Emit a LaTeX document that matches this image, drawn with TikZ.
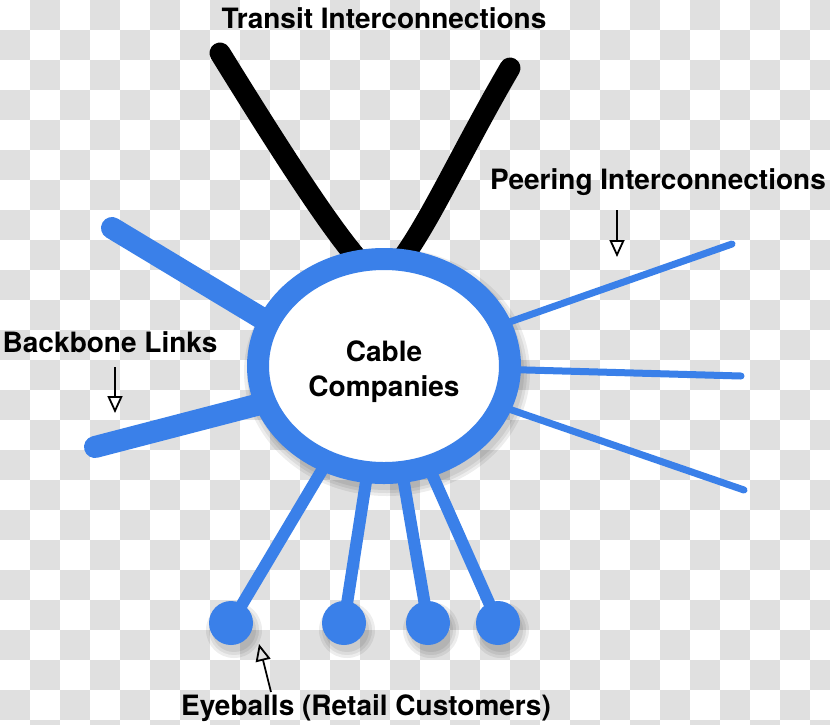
\documentclass[tikz,border=0pt]{standalone}
\usepackage{fontspec}
\setmainfont{TeX Gyre Heros}
\usetikzlibrary{arrows.meta,shapes.geometric}
\definecolor{netblue}{RGB}{58,128,233}
\definecolor{checker}{RGB}{224,224,224}
\pgfdeclarelayer{bgchk}
\pgfdeclarelayer{bglines}
\pgfsetlayers{bgchk,bglines,main}
\begin{document}
\begin{tikzpicture}[x=1pt,y=-1pt,
  lbl/.style={font=\fontsize{28}{35}\selectfont\bfseries, text=black, inner sep=0pt, anchor=base},
  cablestyle/.style={ellipse, draw=netblue, fill=white, line width=22pt, minimum width=252pt,
    minimum height=214pt, inner sep=0pt, outer sep=0pt, align=center,
    font=\fontsize{28}{35}\selectfont\bfseries},
  peer/.style={draw=netblue, line width=7pt, line cap=round},
  eye/.style={draw=netblue, line width=12pt},
  backbone/.style={draw=netblue, line width=22pt, line cap=round},
  transit/.style={draw=black, line width=21pt, line cap=round},
  ball/.style={circle, fill=netblue, minimum size=44pt, inner sep=0pt},
  softshadow/.style={fill=black, opacity=0.07},
  pointer/.style={draw=black, line width=1.8pt, -{Triangle[open, length=17pt, width=15pt, line width=1.8pt]}},
]
\useasboundingbox (0,0) rectangle (830,724);

% checkerboard background
\begin{pgfonlayer}{bgchk}
  \fill[white] (0,0) rectangle (830,724);
  \clip (0,0) rectangle (830,724);
  \foreach \j in {0,...,24}{
    \foreach \i in {0,2,...,26}{
      \fill[checker] ({(\i+1-mod(\j,2))*30},{\j*30}) rectangle ++(30,30);
    }
  }
\end{pgfonlayer}

% central node
\node[cablestyle] (cable) at (384,366) {\rule{0pt}{33pt}Cable\\Companies};

% eyeball nodes
\node[ball] (e1) at (231,623) {};
\node[ball] (e2) at (344,623) {};
\node[ball] (e3) at (428,623) {};
\node[ball] (e4) at (498,623) {};

% free ends
\coordinate (p1) at (732,244);
\coordinate (p2) at (741,376);
\coordinate (p3) at (744,490);
\coordinate (b1) at (112,228);
\coordinate (b1e) at (268,322);
\coordinate (b2) at (95,447);
\coordinate (b2e) at (268,402);
\coordinate (t1) at (220,53);
\coordinate (t1e) at (362,264);
\coordinate (t2) at (510,68);
\coordinate (t2e) at (398,264);

\begin{pgfonlayer}{bglines}
  % shadows
  \foreach \r in {0,3,6}{
    \fill[softshadow] ([xshift=3pt,yshift=-6pt]cable.center) ellipse [x radius={137+\r}, y radius={118+\r}];
  }
  \foreach \n in {e1,e2,e3,e4}{
    \foreach \r in {0,3,6}{
      \fill[softshadow] ([xshift=3pt,yshift=-7pt]\n.center) circle [radius={22+\r}];
    }
  }
  % transit
  \draw[transit] (t1) .. controls (280,150) and (330,228) .. (t1e);
  \draw[transit] (t2) .. controls (462,150) and (428,226) .. (t2e);
  % backbone
  \draw[backbone] (b1) -- (b1e);
  \draw[backbone] (b2) -- (b2e);
  % peering
  \draw[peer] (p1) -- (cable.center);
  \draw[peer] (p2) -- (cable.center);
  \draw[peer] (p3) -- (cable.center);
  % eyeballs
  \draw[eye] (e1.center) -- (cable.center);
  \draw[eye] (e2.center) -- (cable.center);
  \draw[eye] (e3.center) -- (cable.center);
  \draw[eye] (e4.center) -- (cable.center);
\end{pgfonlayer}

% labels
\node[lbl] (transit) at (384,28) {Transit Interconnections};
\node[lbl] (peering) at (658,189) {Peering Interconnections};
\node[lbl] (backbonelbl) at (110,352) {Backbone Links};
\node[lbl] (eyeballs) at (366,715) {Eyeballs (Retail Customers)};

% pointers
\coordinate (pa) at (617,210);
\coordinate (pb) at (617,257);
\coordinate (ba) at (115,367);
\coordinate (bb) at (115,413);
\coordinate (ea) at (271,692);
\coordinate (eb) at (259,644);
\draw[pointer] (pa) -- (pb);
\draw[pointer] (ba) -- (bb);
\draw[pointer] (ea) -- (eb);
\end{tikzpicture}
\end{document}
